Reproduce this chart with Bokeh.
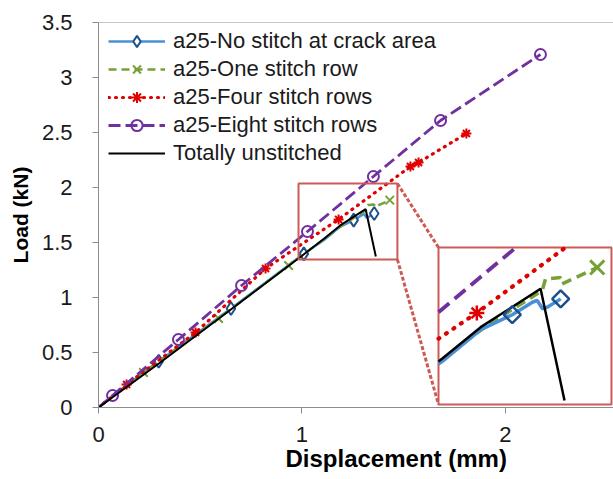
import math
from bokeh.plotting import figure
from bokeh.models import (Range1d, Span, Title, Legend, LegendItem,
                          NumeralTickFormatter, FixedTicker)
from bokeh.embed import file_html
from bokeh.resources import INLINE

# ---------------- data ----------------
nostitch_x = [0, 0.296, 0.651, 1.009, 1.108, 1.188, 1.254, 1.296, 1.306, 1.317, 1.327, 1.355]
nostitch_y = [0, 0.421, 0.900, 1.397, 1.523, 1.645, 1.703, 1.751, 1.758, 1.726, 1.732, 1.764]
nostitch_mx = [0.296, 0.651, 1.009, 1.254, 1.355]
nostitch_my = [0.421, 0.900, 1.397, 1.703, 1.764]

one_x = [0, 0.221, 0.590, 0.934, 1.108, 1.200, 1.3165, 1.3234, 1.3547, 1.358, 1.4313]
one_y = [0, 0.318, 0.809, 1.291, 1.530, 1.660, 1.796, 1.841, 1.846, 1.822, 1.885]
one_mx = [0.221, 0.590, 0.934, 1.4313]
one_my = [0.318, 0.809, 1.291, 1.885]

four_x = [0, 0.138, 0.477, 0.821, 1.180, 1.533, 1.573, 1.808]
four_y = [0, 0.209, 0.682, 1.264, 1.710, 2.191, 2.227, 2.491]
four_mx = [0.138, 0.477, 0.821, 1.180, 1.533, 1.573, 1.808]
four_my = [0.209, 0.682, 1.264, 1.710, 2.191, 2.227, 2.491]

eight_x = [0, 0.069, 0.393, 0.703, 1.027, 1.351, 1.681, 2.172]
eight_y = [0, 0.109, 0.618, 1.109, 1.600, 2.100, 2.609, 3.209]
eight_mx = [0.069, 0.393, 0.703, 1.027, 1.351, 1.681, 2.172]
eight_my = [0.109, 0.618, 1.109, 1.600, 2.100, 2.609, 3.209]

unst_x = [0, 0.300, 0.600, 1.000, 1.108, 1.188, 1.313, 1.363]
unst_y = [0, 0.405, 0.820, 1.380, 1.534, 1.655, 1.803, 1.372]

labels = ["a25-No stitch at crack area", "a25-One stitch row",
          "a25-Four stitch rows", "a25-Eight stitch rows", "Totally unstitched"]
x_ticks = [0, 1, 2]
y_ticks = [0, 0.5, 1, 1.5, 2, 2.5, 3, 3.5]

# zoom box in the main chart, zoom window shown in the inset, and inset placement
zoom_box = (0.983, 1.469, 1.345, 2.036)       # left, right, bottom, top
inset_win = (1.100, 1.461, 1.357, 1.962)      # data window shown in the inset
inset_box = (1.671, 2.521, 0.0273, 1.4545)    # where the inset sits (main coords)

# ---------------- styles ----------------
BLUE = "#4a90d9"
BLUE_M = "#1f4e8c"
GREEN = "#77a038"
RED = "#e00000"
PURPLE = "#7030a0"
BOXC = "#cc5b55"
AXC = "#8c8c8c"
FONT = "Liberation Sans"

p = figure(width=613, height=479, output_backend="svg", toolbar_location=None,
           x_range=Range1d(0, 2.531), y_range=Range1d(0, 3.5),
           min_border_left=98, min_border_right=0, min_border_top=22,
           min_border_bottom=72)
p.outline_line_color = None
p.grid.grid_line_color = None
p.background_fill_color = "white"

for ax in (p.xaxis[0], p.yaxis[0]):
    ax.axis_line_color = AXC
    ax.major_tick_line_color = AXC
    ax.major_tick_out = 6
    ax.major_tick_in = 0
    ax.minor_tick_line_color = None
    ax.major_label_text_font = FONT
    ax.major_label_text_font_size = "22px"
    ax.major_label_text_color = "#1a1a1a"
    ax.formatter = NumeralTickFormatter(format="0.[0]")

p.xaxis.ticker = FixedTicker(ticks=x_ticks)
p.yaxis.ticker = FixedTicker(ticks=y_ticks)
p.xaxis.major_label_standoff = 13
p.yaxis.major_label_standoff = 20
p.yaxis.axis_label = "Load (kN)"
p.yaxis.axis_label_text_font = FONT
p.yaxis.axis_label_text_font_size = "21px"
p.yaxis.axis_label_text_font_style = "bold"
p.yaxis.axis_label_text_color = "black"
p.yaxis.axis_label_standoff = 7

p.add_layout(Span(location=3.5, dimension="width", line_color=AXC, line_width=1))

# ---------------- main curves ----------------
r_b = p.line(nostitch_x, nostitch_y, line_color=BLUE, line_width=2.5)
m_b = p.scatter(nostitch_mx, nostitch_my, marker="diamond", size=13,
                line_color=BLUE_M, line_width=2, fill_color="white")
r_g = p.line(one_x, one_y, line_color=GREEN, line_width=2.5, line_dash="8 5")
m_g = p.scatter(one_mx, one_my, marker="x", size=12, line_color=GREEN, line_width=2)
r_r = p.line(four_x, four_y, line_color=RED, line_width=3.2, line_dash="1 6",
             line_cap="round")
m_r = p.scatter(four_mx, four_my, marker="asterisk", size=10, line_color=RED, line_width=2)
r_p = p.line(eight_x, eight_y, line_color=PURPLE, line_width=2.8, line_dash="12 5")
m_p = p.scatter(eight_mx, eight_my, marker="circle", size=11, line_color=PURPLE,
                line_width=2, fill_color=None)
r_k = p.line(unst_x, unst_y, line_color="black", line_width=2)

# ---------------- zoom box, connectors, inset ----------------
zl, zr, zb, zt = zoom_box
il, ir, ib, it = inset_box
p.quad(left=[zl], right=[zr], bottom=[zb], top=[zt], fill_color=None,
       line_color=BOXC, line_width=2)
p.multi_line(xs=[[zr, il], [zr, il]], ys=[[zt, it], [zb, ib]], line_color=BOXC,
             line_width=3, line_dash="4 2")
p.quad(left=[il], right=[ir], bottom=[ib], top=[it], fill_color="white",
       line_color=BOXC, line_width=2)

wx0, wx1, wy0, wy1 = inset_win
sub = p.subplot(x_source=Range1d(wx0, wx1), y_source=Range1d(wy0, wy1),
                x_target=Range1d(il, ir), y_target=Range1d(ib, it))


def clip(xs, ys):
    segs, cx, cy = [], [], []
    for i in range(len(xs) - 1):
        ax_, ay_, bx_, by_ = xs[i], ys[i], xs[i + 1], ys[i + 1]
        dx, dy = bx_ - ax_, by_ - ay_
        t0, t1, ok = 0.0, 1.0, True
        for pp, qq in ((-dx, ax_ - wx0), (dx, wx1 - ax_), (-dy, ay_ - wy0), (dy, wy1 - ay_)):
            if pp == 0:
                if qq < 0:
                    ok = False
                    break
            else:
                t = qq / pp
                if pp < 0:
                    if t > t1:
                        ok = False
                        break
                    t0 = max(t0, t)
                else:
                    if t < t0:
                        ok = False
                        break
                    t1 = min(t1, t)
        if not ok:
            if cx:
                segs.append((cx, cy))
                cx, cy = [], []
            continue
        sx, sy = ax_ + t0 * dx, ay_ + t0 * dy
        ex, ey = ax_ + t1 * dx, ay_ + t1 * dy
        if not cx or t0 > 0:
            if cx:
                segs.append((cx, cy))
            cx, cy = [sx], [sy]
        cx.append(ex)
        cy.append(ey)
        if t1 < 1:
            segs.append((cx, cy))
            cx, cy = [], []
    if cx:
        segs.append((cx, cy))
    return [s[0] for s in segs], [s[1] for s in segs]


def inside(xs, ys):
    pts = [(a, b) for a, b in zip(xs, ys) if wx0 <= a <= wx1 and wy0 <= b <= wy1]
    return [a for a, _ in pts], [b for _, b in pts]


cx, cy = clip(eight_x, eight_y)
sub.multi_line(xs=cx, ys=cy, line_color=PURPLE, line_width=3.8, line_dash="14 7")
cx, cy = clip(four_x, four_y)
sub.multi_line(xs=cx, ys=cy, line_color=RED, line_width=4.2, line_dash="1 8",
               line_cap="round")
mx, my = inside(four_mx, four_my)
sub.scatter(mx, my, marker="asterisk", size=15, line_color=RED, line_width=2.5)
cx, cy = clip(one_x, one_y)
sub.multi_line(xs=cx, ys=cy, line_color=GREEN, line_width=3.5, line_dash="10 6")
mx, my = inside(one_mx, one_my)
sub.scatter(mx, my, marker="x", size=20, line_color=GREEN, line_width=3)
cx, cy = clip(nostitch_x, nostitch_y)
sub.multi_line(xs=cx, ys=cy, line_color=BLUE, line_width=3.5)
cx, cy = clip(unst_x, unst_y)
sub.multi_line(xs=cx, ys=cy, line_color="black", line_width=2.5)
mx, my = inside(nostitch_mx, nostitch_my)
sub.scatter(mx, my, marker="square", angle=math.pi / 4, size=12, line_color=BLUE_M,
            line_width=2.5, fill_color=None)

# ---------------- legend ----------------
legend = Legend(items=[
    LegendItem(label=labels[0], renderers=[r_b, m_b]),
    LegendItem(label=labels[1], renderers=[r_g, m_g]),
    LegendItem(label=labels[2], renderers=[r_r, m_r]),
    LegendItem(label=labels[3], renderers=[r_p, m_p]),
    LegendItem(label=labels[4], renderers=[r_k]),
], location=(10, 240))
legend.background_fill_alpha = 0
legend.border_line_color = None
legend.margin = 0
legend.padding = 0
legend.spacing = 0
legend.glyph_width = 57
legend.glyph_height = 28
legend.label_height = 28
legend.label_standoff = 8
legend.label_text_font = FONT
legend.label_text_font_size = "22px"
legend.label_text_color = "#1a1a1a"
legend.label_text_baseline = "middle"
p.add_layout(legend)

# x-axis title, placed where the original chart had it (left-aligned + offset)
p.add_layout(Title(text="Displacement (mm)", align="left", offset=187, standoff=0,
                   vertical_align="top", text_font=FONT, text_font_size="24px",
                   text_font_style="bold", text_color="black"), "below")

open("out.html", "w").write(file_html(p, INLINE))
